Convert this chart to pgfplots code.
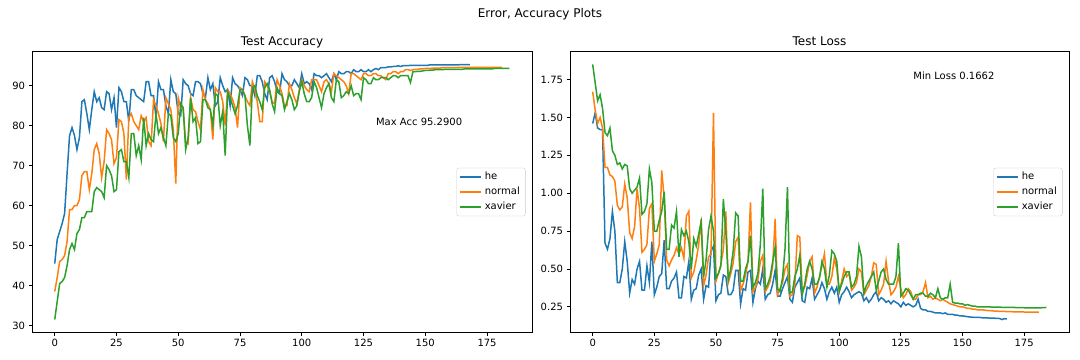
\documentclass[border=0pt]{standalone}
\usepackage{fontspec}
\setmainfont{DejaVu Sans}
\usepackage{pgfplots}
\pgfplotsset{compat=1.18}
\definecolor{tBlue}{HTML}{1F77B4}
\definecolor{tOrange}{HTML}{FF7F0E}
\definecolor{tGreen}{HTML}{2CA02C}

\pgfplotsset{
  mplaxis/.style={
    scale only axis,
    anchor=south west,
    height=280.6bp,
    xmin=-9.2, xmax=193.2,
    xtick={0,25,...,175},
    tick align=outside,
    major tick length=3.5bp,
    axis line style={line width=0.8bp},
    every tick/.style={black, line width=0.8bp},
    tick label style={font=\fontsize{10bp}{12bp}\selectfont},
    /pgf/number format/assume math mode=true,
    xtick pos=bottom, ytick pos=left,
    title style={font=\fontsize{12bp}{14bp}\selectfont, at={(0.5,1)}, anchor=base, yshift=0.7bp},
    legend cell align=left,
    legend image code/.code={\draw[##1, line width=1.5bp] (0bp,0bp) -- (21bp,0bp);},
    legend style={at={(0.987,0.5)}, anchor=east, draw=black!20, rounded corners=2bp,
      font=\fontsize{10bp}{12bp}\selectfont, inner xsep=2bp, inner ysep=1.5bp,
      nodes={inner xsep=3.5bp, inner ysep=1bp, text height=9.5bp, text depth=3.5bp}, row sep=0bp},
    every axis plot/.append style={line width=1.5bp, no markers},
  },
}

\begin{document}
\begin{tikzpicture}
\useasboundingbox (0,0) rectangle (1080bp,360bp);

\node[font=\fontsize{12bp}{14bp}\selectfont, anchor=base] at (540bp,342bp) {Error, Accuracy Plots};

% accuracy
\begin{axis}[mplaxis, at={(32bp,27.7bp)}, width=500bp,
  ymin=28.3, ymax=98.5, ytick={30,40,...,90},
  title={Test Accuracy}]
\addplot[color=tBlue] table[row sep=\\, header=false, x expr=\coordindex, y index=0] {
45.5\\ 51.5\\ 53.5\\ 55.5\\ 58\\ 68\\ 77.5\\ 79.5\\ 77.5\\ 74\\
77\\ 86\\ 86.5\\ 83\\ 79\\ 84\\ 88.5\\ 86\\ 87\\ 84.5\\
84\\ 88.5\\ 88\\ 84\\ 87\\ 79.5\\ 89.5\\ 88.5\\ 86\\ 86\\
81\\ 89\\ 89\\ 87.5\\ 87\\ 86.5\\ 86\\ 91\\ 91\\ 87.5\\
87.5\\ 82\\ 91\\ 89\\ 89\\ 85\\ 83\\ 91.5\\ 88.5\\ 88\\
83\\ 82.5\\ 91.5\\ 90.5\\ 90\\ 88\\ 87.5\\ 91\\ 91\\ 90.5\\
88\\ 87\\ 92\\ 89\\ 90.5\\ 85\\ 86\\ 92\\ 90\\ 88.5\\
89\\ 85\\ 92\\ 90.5\\ 90\\ 89\\ 87.5\\ 92\\ 91.5\\ 90\\
90\\ 87.5\\ 92.5\\ 92.5\\ 91\\ 88\\ 86.5\\ 92\\ 92.5\\ 91\\
88.5\\ 88\\ 93\\ 91.5\\ 91\\ 90\\ 90\\ 91.5\\ 90.5\\ 89.5\\
93\\ 90.5\\ 91\\ 90.5\\ 89\\ 93\\ 92.5\\ 92.5\\ 92\\ 92.5\\
93\\ 92\\ 91\\ 93\\ 91.5\\ 93.5\\ 93\\ 93\\ 93.5\\ 93.5\\
93\\ 94\\ 93.5\\ 93.5\\ 94\\ 93.5\\ 93.5\\ 94\\ 93.5\\ 94\\
94.3\\ 94\\ 94.5\\ 94.5\\ 94.5\\ 94.7\\ 94.7\\ 94.8\\ 94.8\\ 95\\
94.8\\ 95\\ 95\\ 95\\ 95.1\\ 95.1\\ 95.1\\ 95.1\\ 95.1\\ 95.1\\
95.1\\ 95.1\\ 95.2\\ 95.2\\ 95.2\\ 95.2\\ 95.2\\ 95.2\\ 95.2\\ 95.2\\
95.2\\ 95.2\\ 95.2\\ 95.2\\ 95.25\\ 95.25\\ 95.25\\ 95.29\\ 95.29\\
};
\addlegendentry{he}
\addplot[color=tOrange] table[row sep=\\, header=false, x expr=\coordindex, y index=0] {
38.5\\ 42\\ 46\\ 46.5\\ 47.5\\ 51\\ 59\\ 59\\ 60\\ 60\\
61.5\\ 67.5\\ 68.5\\ 68.5\\ 64\\ 68\\ 74\\ 75.5\\ 73\\ 67\\
71\\ 79\\ 78\\ 76.5\\ 70.5\\ 72\\ 81.5\\ 81\\ 78\\ 66.5\\
82\\ 83\\ 81\\ 80\\ 79\\ 82.5\\ 81\\ 82\\ 76\\ 75\\
86.5\\ 85\\ 83\\ 80.5\\ 76\\ 87\\ 85.5\\ 84\\ 79\\ 65.5\\
87\\ 84.5\\ 84\\ 76\\ 75.5\\ 87\\ 84\\ 83.5\\ 81\\ 79\\
89\\ 86.5\\ 85.5\\ 84\\ 76.5\\ 89.5\\ 88.5\\ 88.5\\ 86\\ 80\\
89\\ 88\\ 86.5\\ 84.5\\ 79.5\\ 89.5\\ 89\\ 87.5\\ 86\\ 85\\
91\\ 89\\ 86\\ 81\\ 81\\ 91\\ 90\\ 88.5\\ 86\\ 85.5\\
91.5\\ 90\\ 88\\ 85\\ 85\\ 90.5\\ 89\\ 87\\ 85.5\\ 89\\
91.5\\ 90\\ 89\\ 88.5\\ 91.5\\ 91.5\\ 91.5\\ 90\\ 88.5\\ 91\\
91.5\\ 90.5\\ 88.5\\ 93\\ 92.5\\ 92\\ 91.5\\ 91\\ 90\\ 88\\
93\\ 93\\ 92.5\\ 92\\ 91.5\\ 93\\ 93\\ 92.5\\ 92.5\\ 93\\
93\\ 92.5\\ 92.5\\ 92\\ 91.5\\ 93\\ 93\\ 93.5\\ 93.5\\ 93\\
93.5\\ 93.5\\ 94\\ 94\\ 93.8\\ 94\\ 94.1\\ 94.1\\ 94.2\\ 94.2\\
94.3\\ 94.3\\ 94.3\\ 94.4\\ 94.4\\ 94.4\\ 94.4\\ 94.5\\ 94.5\\ 94.5\\
94.5\\ 94.5\\ 94.5\\ 94.5\\ 94.6\\ 94.6\\ 94.6\\ 94.6\\ 94.6\\ 94.6\\
94.6\\ 94.6\\ 94.6\\ 94.6\\ 94.6\\ 94.6\\ 94.6\\ 94.6\\ 94.6\\ 94.6\\
94.6\\ 94.6\\
};
\addlegendentry{normal}
\addplot[color=tGreen] table[row sep=\\, header=false, x expr=\coordindex, y index=0] {
31.5\\ 36\\ 40.5\\ 41\\ 42\\ 45\\ 49\\ 50.5\\ 49\\ 53\\
54\\ 57\\ 57\\ 58.5\\ 58.5\\ 58.5\\ 63.5\\ 64.5\\ 64\\ 63.5\\
62\\ 70\\ 69\\ 67.5\\ 63.5\\ 64\\ 73.5\\ 74\\ 71\\ 71\\
67\\ 78\\ 78\\ 72.5\\ 75\\ 71.5\\ 82\\ 75\\ 78\\ 76.5\\
76\\ 83\\ 78\\ 79.5\\ 77\\ 75\\ 83\\ 82.5\\ 77\\ 76\\
78\\ 85.5\\ 84.5\\ 74\\ 77\\ 87\\ 81\\ 82\\ 75.5\\ 76\\
86.5\\ 86.5\\ 84.5\\ 84\\ 80\\ 88\\ 87.5\\ 80\\ 83.5\\ 72.5\\
88.5\\ 87\\ 85\\ 83\\ 85\\ 89\\ 89\\ 87.5\\ 80\\ 75\\
89.5\\ 90\\ 87.5\\ 86\\ 84\\ 89.5\\ 90.5\\ 89\\ 85.5\\ 83.5\\
89.5\\ 88\\ 87.5\\ 84\\ 86\\ 88\\ 86.5\\ 84\\ 85\\ 88.5\\
91\\ 88\\ 86\\ 86\\ 87\\ 91\\ 89.5\\ 87\\ 84.5\\ 88\\
89.5\\ 90.5\\ 87\\ 86\\ 91.5\\ 91\\ 87\\ 87.5\\ 88.5\\ 88\\
90\\ 87.5\\ 88\\ 88\\ 86.5\\ 92\\ 91.5\\ 90.5\\ 90.5\\ 92\\
91.5\\ 91.5\\ 92\\ 92\\ 92\\ 91.5\\ 92\\ 92.5\\ 92.5\\ 92\\
92.5\\ 92.5\\ 92.5\\ 92.5\\ 90.8\\ 93.5\\ 93.5\\ 93.6\\ 93.6\\ 93.7\\
93.8\\ 93.8\\ 93.9\\ 93.9\\ 94\\ 94\\ 94\\ 94\\ 94.1\\ 94.1\\
94.1\\ 94.1\\ 94.1\\ 94.1\\ 94.1\\ 94.1\\ 94.2\\ 94.2\\ 94.2\\ 94.2\\
94.2\\ 94.2\\ 94.2\\ 94.2\\ 94.2\\ 94.2\\ 94.2\\ 94.2\\ 94.3\\ 94.3\\
94.3\\ 94.3\\ 94.3\\ 94.3\\ 94.3\\
};
\addlegendentry{xavier}
\node[anchor=base west, inner sep=0pt, font=\fontsize{10bp}{12bp}\selectfont] at (axis cs:130,80) {Max Acc 95.2900};
\end{axis}

% loss
\begin{axis}[mplaxis, at={(570bp,27.7bp)}, width=499bp,
  ymin=0.082, ymax=1.934, ytick={0.25,0.5,...,1.75},
  yticklabel style={/pgf/number format/.cd, fixed, fixed zerofill, precision=2},
  title={Test Loss}]
\addplot[color=tBlue] table[row sep=\\, header=false, x expr=\coordindex, y index=0] {
1.46\\ 1.53\\ 1.43\\ 1.42\\ 1.42\\ 0.67\\ 0.63\\ 0.70\\ 0.88\\ 0.75\\
0.41\\ 0.41\\ 0.50\\ 0.68\\ 0.55\\ 0.34\\ 0.43\\ 0.40\\ 0.50\\ 0.55\\
0.36\\ 0.36\\ 0.52\\ 0.41\\ 0.68\\ 0.33\\ 0.38\\ 0.45\\ 0.47\\ 0.69\\
0.37\\ 0.37\\ 0.42\\ 0.44\\ 0.48\\ 0.31\\ 0.31\\ 0.45\\ 0.44\\ 0.55\\
0.30\\ 0.36\\ 0.37\\ 0.46\\ 0.50\\ 0.30\\ 0.39\\ 0.38\\ 0.62\\ 0.65\\
0.29\\ 0.33\\ 0.34\\ 0.46\\ 0.45\\ 0.33\\ 0.33\\ 0.36\\ 0.49\\ 0.49\\
0.27\\ 0.37\\ 0.36\\ 0.48\\ 0.49\\ 0.28\\ 0.37\\ 0.42\\ 0.40\\ 0.50\\
0.30\\ 0.33\\ 0.34\\ 0.40\\ 0.49\\ 0.32\\ 0.32\\ 0.37\\ 0.41\\ 0.45\\
0.30\\ 0.28\\ 0.38\\ 0.41\\ 0.44\\ 0.29\\ 0.28\\ 0.38\\ 0.37\\ 0.44\\
0.30\\ 0.33\\ 0.36\\ 0.41\\ 0.37\\ 0.30\\ 0.35\\ 0.38\\ 0.34\\ 0.38\\
0.28\\ 0.33\\ 0.35\\ 0.38\\ 0.35\\ 0.31\\ 0.33\\ 0.34\\ 0.35\\ 0.34\\
0.29\\ 0.31\\ 0.28\\ 0.30\\ 0.33\\ 0.35\\ 0.29\\ 0.31\\ 0.30\\ 0.28\\
0.29\\ 0.27\\ 0.29\\ 0.28\\ 0.27\\ 0.25\\ 0.28\\ 0.26\\ 0.27\\ 0.26\\
0.25\\ 0.26\\ 0.30\\ 0.24\\ 0.23\\ 0.23\\ 0.22\\ 0.22\\ 0.215\\ 0.21\\
0.21\\ 0.21\\ 0.205\\ 0.21\\ 0.20\\ 0.20\\ 0.20\\ 0.195\\ 0.195\\ 0.19\\
0.19\\ 0.188\\ 0.185\\ 0.183\\ 0.182\\ 0.18\\ 0.18\\ 0.18\\ 0.178\\ 0.178\\
0.177\\ 0.176\\ 0.175\\ 0.175\\ 0.174\\ 0.173\\ 0.1662\\ 0.172\\ 0.17\\
};
\addlegendentry{he}
\addplot[color=tOrange] table[row sep=\\, header=false, x expr=\coordindex, y index=0] {
1.67\\ 1.55\\ 1.46\\ 1.50\\ 1.43\\ 1.17\\ 1.17\\ 1.12\\ 1.11\\ 1.08\\
0.92\\ 0.89\\ 0.91\\ 1.06\\ 0.97\\ 0.74\\ 0.70\\ 0.78\\ 1.03\\ 0.90\\
0.61\\ 0.63\\ 0.66\\ 0.90\\ 0.93\\ 0.55\\ 0.60\\ 0.66\\ 1.15\\ 0.97\\
0.56\\ 0.52\\ 0.56\\ 0.59\\ 0.64\\ 0.60\\ 0.64\\ 0.57\\ 0.85\\ 0.88\\
0.44\\ 0.48\\ 0.56\\ 0.66\\ 0.83\\ 0.39\\ 0.46\\ 0.58\\ 0.60\\ 1.53\\
0.42\\ 0.47\\ 0.53\\ 0.63\\ 0.88\\ 0.41\\ 0.47\\ 0.54\\ 0.68\\ 0.71\\
0.36\\ 0.40\\ 0.46\\ 0.55\\ 0.94\\ 0.35\\ 0.38\\ 0.43\\ 0.55\\ 0.59\\
0.35\\ 0.38\\ 0.42\\ 0.52\\ 0.83\\ 0.33\\ 0.37\\ 0.41\\ 0.50\\ 0.53\\
0.32\\ 0.33\\ 0.40\\ 0.72\\ 0.71\\ 0.35\\ 0.38\\ 0.46\\ 0.55\\ 0.58\\
0.34\\ 0.38\\ 0.45\\ 0.52\\ 0.60\\ 0.40\\ 0.40\\ 0.45\\ 0.57\\ 0.50\\
0.35\\ 0.42\\ 0.50\\ 0.45\\ 0.47\\ 0.36\\ 0.38\\ 0.41\\ 0.50\\ 0.48\\
0.33\\ 0.36\\ 0.39\\ 0.45\\ 0.54\\ 0.53\\ 0.33\\ 0.36\\ 0.40\\ 0.55\\
0.42\\ 0.33\\ 0.35\\ 0.38\\ 0.45\\ 0.37\\ 0.31\\ 0.33\\ 0.37\\ 0.35\\
0.30\\ 0.30\\ 0.33\\ 0.33\\ 0.35\\ 0.41\\ 0.31\\ 0.32\\ 0.30\\ 0.31\\
0.30\\ 0.29\\ 0.30\\ 0.29\\ 0.28\\ 0.27\\ 0.265\\ 0.26\\ 0.255\\ 0.25\\
0.25\\ 0.245\\ 0.24\\ 0.24\\ 0.235\\ 0.235\\ 0.23\\ 0.23\\ 0.23\\ 0.228\\
0.226\\ 0.225\\ 0.224\\ 0.222\\ 0.222\\ 0.22\\ 0.22\\ 0.22\\ 0.218\\ 0.218\\
0.218\\ 0.217\\ 0.217\\ 0.216\\ 0.216\\ 0.216\\ 0.215\\ 0.215\\ 0.215\\ 0.215\\
0.215\\ 0.215\\
};
\addlegendentry{normal}
\addplot[color=tGreen] table[row sep=\\, header=false, x expr=\coordindex, y index=0] {
1.85\\ 1.73\\ 1.61\\ 1.65\\ 1.56\\ 1.40\\ 1.38\\ 1.43\\ 1.28\\ 1.25\\
1.19\\ 1.20\\ 1.16\\ 1.19\\ 1.18\\ 1.03\\ 1.00\\ 1.02\\ 1.04\\ 1.10\\
0.86\\ 0.88\\ 0.93\\ 1.16\\ 1.07\\ 0.75\\ 0.75\\ 0.82\\ 0.88\\ 1.01\\
0.63\\ 0.63\\ 0.79\\ 0.77\\ 0.88\\ 0.58\\ 0.76\\ 0.72\\ 0.75\\ 0.68\\
0.50\\ 0.70\\ 0.65\\ 0.73\\ 0.81\\ 0.45\\ 0.56\\ 0.76\\ 0.85\\ 0.75\\
0.44\\ 0.47\\ 0.52\\ 0.96\\ 0.75\\ 0.43\\ 0.50\\ 0.62\\ 0.87\\ 0.85\\
0.42\\ 0.42\\ 0.50\\ 0.55\\ 0.72\\ 0.38\\ 0.41\\ 0.47\\ 0.66\\ 1.03\\
0.37\\ 0.40\\ 0.45\\ 0.55\\ 0.64\\ 0.37\\ 0.35\\ 0.44\\ 0.63\\ 1.04\\
0.34\\ 0.35\\ 0.45\\ 0.50\\ 0.59\\ 0.33\\ 0.40\\ 0.50\\ 0.55\\ 0.50\\
0.40\\ 0.40\\ 0.44\\ 0.55\\ 0.50\\ 0.38\\ 0.46\\ 0.62\\ 0.60\\ 0.55\\
0.35\\ 0.40\\ 0.45\\ 0.48\\ 0.48\\ 0.38\\ 0.40\\ 0.45\\ 0.65\\ 0.58\\
0.34\\ 0.39\\ 0.42\\ 0.45\\ 0.48\\ 0.36\\ 0.42\\ 0.48\\ 0.50\\ 0.43\\
0.40\\ 0.40\\ 0.40\\ 0.45\\ 0.67\\ 0.32\\ 0.34\\ 0.37\\ 0.36\\ 0.33\\
0.30\\ 0.33\\ 0.33\\ 0.34\\ 0.34\\ 0.32\\ 0.32\\ 0.34\\ 0.33\\ 0.31\\
0.37\\ 0.31\\ 0.30\\ 0.31\\ 0.31\\ 0.40\\ 0.28\\ 0.275\\ 0.275\\ 0.27\\
0.27\\ 0.26\\ 0.265\\ 0.26\\ 0.255\\ 0.255\\ 0.25\\ 0.25\\ 0.25\\ 0.25\\
0.25\\ 0.25\\ 0.248\\ 0.248\\ 0.248\\ 0.248\\ 0.247\\ 0.247\\ 0.247\\ 0.246\\
0.246\\ 0.246\\ 0.245\\ 0.245\\ 0.245\\ 0.244\\ 0.244\\ 0.244\\ 0.244\\ 0.244\\
0.244\\ 0.244\\ 0.244\\ 0.245\\ 0.246\\
};
\addlegendentry{xavier}
\node[anchor=base west, inner sep=0pt, font=\fontsize{10bp}{12bp}\selectfont] at (axis cs:130,1.75) {Min Loss 0.1662};
\end{axis}
\end{tikzpicture}
\end{document}
